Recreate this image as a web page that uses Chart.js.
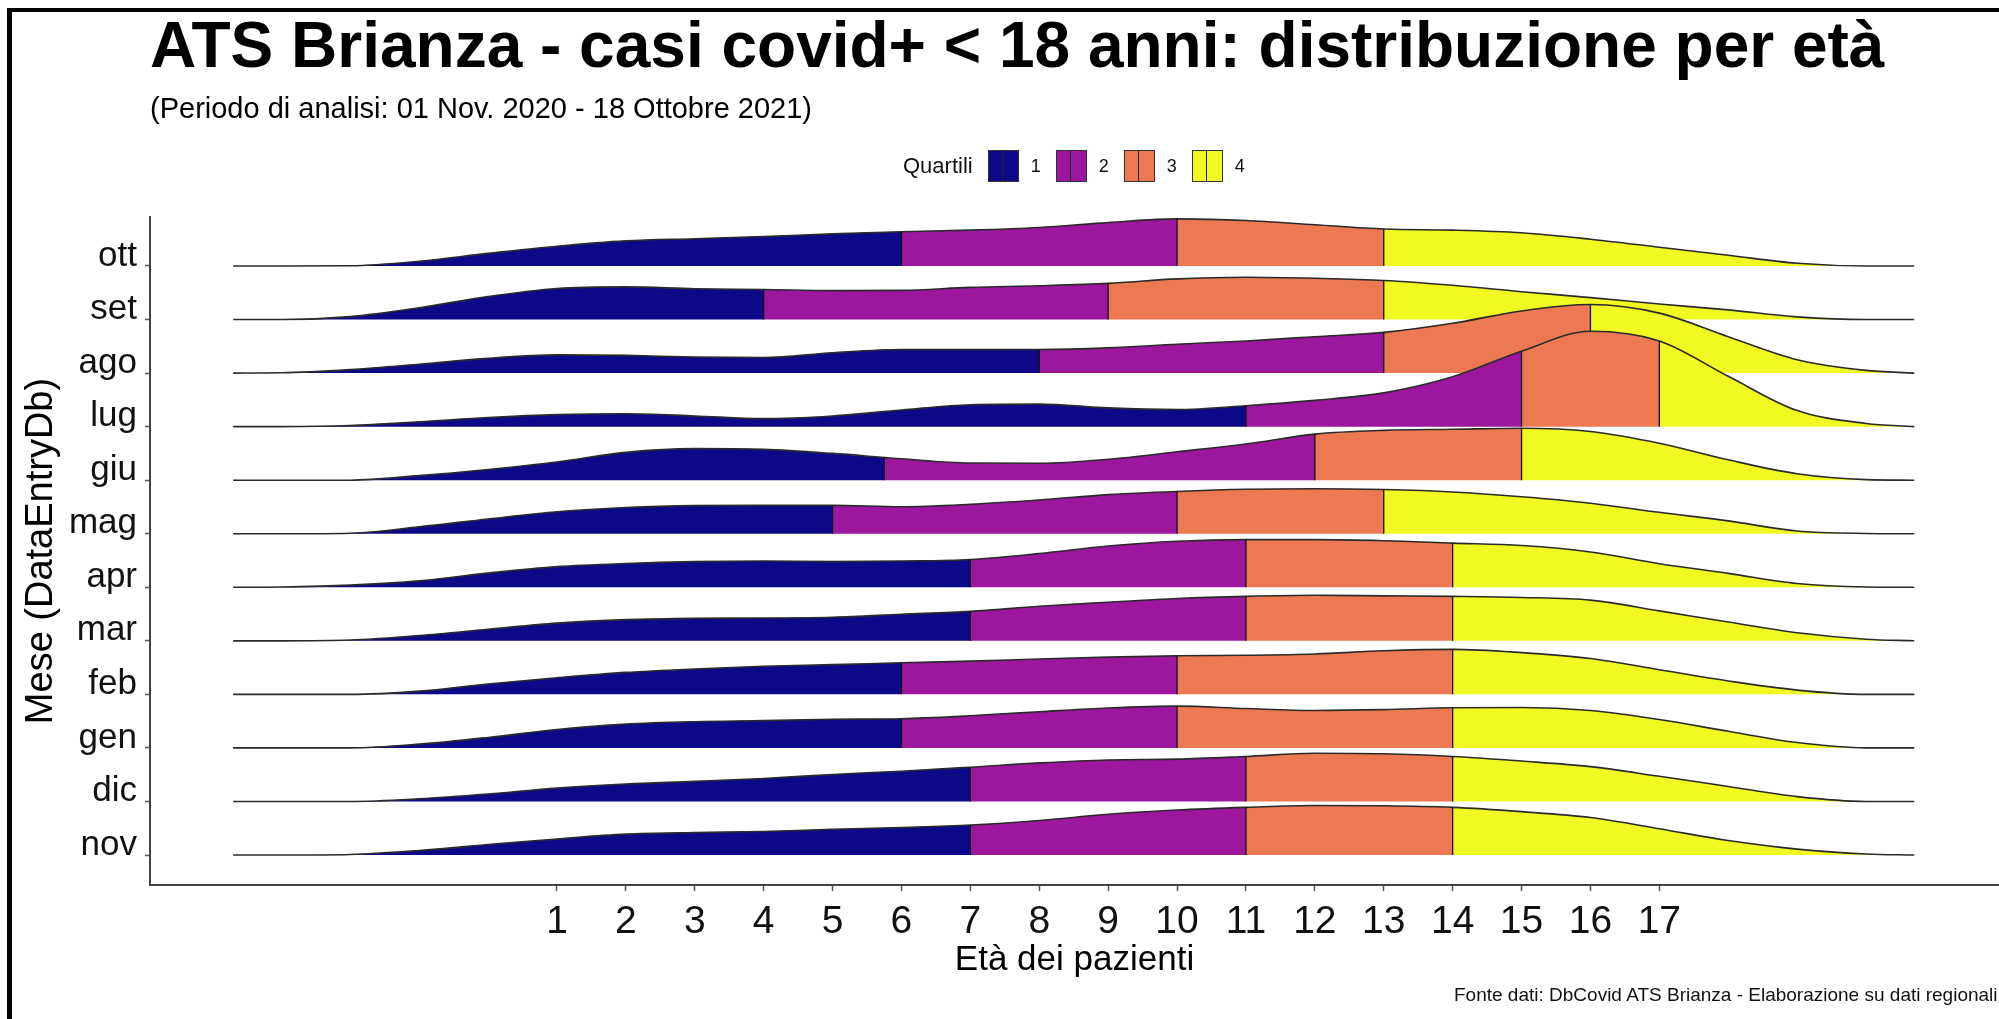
<!DOCTYPE html>
<html>
<head>
<meta charset="utf-8">
<title>ATS Brianza - casi covid+ &lt; 18 anni</title>
<script src="https://cdn.jsdelivr.net/npm/chart.js@4.4.0/dist/chart.umd.min.js"></script>
<style>
  html, body { margin: 0; padding: 0; background: #fff; }
  #wrap { position: relative; width: 1999px; height: 1019px; overflow: hidden;
          font-family: "Liberation Sans", Arial, sans-serif; color: #111; }
  #frame { position: absolute; left: 7px; top: 8px; width: 2100px; height: 1100px;
           border-left: 5px solid #000; border-top: 4px solid #000; pointer-events: none; }
  #legend { position: absolute; left: 903px; top: 150px; height: 32px;
            display: flex; align-items: center; }
  #legend .lt { font-size: 22px; margin-right: 15px; }
  #legend .key { position: relative; width: 31px; height: 32px; box-sizing: border-box;
                 border: 1.5px solid #333; }
  #legend .key::after { content: ""; position: absolute; left: 13px; top: 0; width: 1.5px;
                        height: 100%; background: #222; }
  #legend .kl { font-size: 18px; margin: 0 15px 0 12px; }
  #caption { position: absolute; left: 1454px; top: 984px; font-size: 19px; white-space: nowrap; }
</style>
</head>
<body>
<div id="wrap">
  <canvas id="chart" width="1999" height="1019"></canvas>
  <div id="legend"></div>
  <div id="caption">Fonte dati: DbCovid ATS Brianza - Elaborazione su dati regionali</div>
  <div id="frame"></div>
</div>
<script>
// età (x) su cui è letta la densità di ogni mese
const ages = [-3.7, -3, -2, -1, 0, 1, 2, 3, 4, 5, 6, 7, 8, 9, 10, 11, 12, 13, 14, 15, 16, 17, 18, 19, 20, 20.7];
const ageTicks = [1, 2, 3, 4, 5, 6, 7, 8, 9, 10, 11, 12, 13, 14, 15, 16, 17];

// mesi dal basso verso l'alto
const months = ['nov', 'dic', 'gen', 'feb', 'mar', 'apr', 'mag', 'giu', 'lug', 'ago', 'set', 'ott'];

// altezza delle creste (in righe)
const densNov = [0, 0, 0.01, 0.085, 0.195, 0.30, 0.39, 0.42, 0.44, 0.48, 0.515, 0.56, 0.645, 0.76, 0.84, 0.89, 0.925, 0.92, 0.89, 0.81, 0.70, 0.49, 0.27, 0.11, 0.02, 0];
const densDic = [0, 0, 0, 0.05, 0.14, 0.25, 0.325, 0.375, 0.43, 0.505, 0.565, 0.64, 0.72, 0.775, 0.79, 0.84, 0.90, 0.89, 0.84, 0.755, 0.65, 0.47, 0.28, 0.09, 0, 0];
const densGen = [0, 0, 0, 0.07, 0.195, 0.345, 0.445, 0.49, 0.51, 0.535, 0.545, 0.60, 0.675, 0.745, 0.78, 0.735, 0.70, 0.715, 0.75, 0.755, 0.70, 0.53, 0.31, 0.10, 0, 0];
const densFeb = [0, 0, 0, 0.06, 0.195, 0.31, 0.41, 0.475, 0.525, 0.555, 0.59, 0.62, 0.66, 0.695, 0.72, 0.73, 0.755, 0.815, 0.84, 0.78, 0.67, 0.46, 0.25, 0.08, 0, 0];
const densMar = [0, 0, 0.015, 0.10, 0.215, 0.33, 0.395, 0.42, 0.425, 0.44, 0.495, 0.55, 0.645, 0.72, 0.79, 0.83, 0.85, 0.84, 0.83, 0.81, 0.76, 0.56, 0.35, 0.15, 0.03, 0];
const densApr = [0, 0.005, 0.04, 0.12, 0.265, 0.385, 0.445, 0.48, 0.49, 0.48, 0.49, 0.52, 0.63, 0.77, 0.86, 0.89, 0.89, 0.87, 0.825, 0.78, 0.66, 0.44, 0.26, 0.07, 0.005, 0];
const densMag = [0, 0, 0.01, 0.13, 0.275, 0.41, 0.49, 0.525, 0.53, 0.53, 0.505, 0.55, 0.63, 0.73, 0.79, 0.83, 0.84, 0.825, 0.78, 0.69, 0.57, 0.40, 0.24, 0.05, 0.005, 0];
const densGiu = [0, 0, 0, 0.085, 0.20, 0.34, 0.52, 0.59, 0.575, 0.50, 0.40, 0.32, 0.315, 0.39, 0.53, 0.675, 0.86, 0.93, 0.95, 0.97, 0.91, 0.69, 0.38, 0.12, 0.01, 0];
const densLug = [0, 0, 0.02, 0.09, 0.17, 0.225, 0.24, 0.20, 0.15, 0.20, 0.31, 0.41, 0.42, 0.35, 0.32, 0.39, 0.49, 0.63, 0.93, 1.41, 1.78, 1.60, 0.94, 0.30, 0.06, 0];
const densAgo = [0, 0.005, 0.065, 0.165, 0.275, 0.34, 0.33, 0.30, 0.29, 0.38, 0.44, 0.44, 0.44, 0.47, 0.54, 0.60, 0.68, 0.76, 0.93, 1.16, 1.28, 1.12, 0.68, 0.25, 0.05, 0];
const densSet = [0, 0, 0.055, 0.22, 0.43, 0.58, 0.61, 0.575, 0.56, 0.54, 0.545, 0.60, 0.63, 0.675, 0.76, 0.79, 0.77, 0.73, 0.64, 0.52, 0.41, 0.29, 0.18, 0.05, 0, 0];
const densOtt = [0, 0, 0.005, 0.09, 0.235, 0.37, 0.47, 0.51, 0.55, 0.60, 0.64, 0.67, 0.72, 0.81, 0.88, 0.85, 0.77, 0.69, 0.67, 0.62, 0.50, 0.35, 0.20, 0.05, 0, 0];

// quartili (1°, 2°, 3°) per mese
const qNov = [7, 11, 14];
const qDic = [7, 11, 14];
const qGen = [6, 10, 14];
const qFeb = [6, 10, 14];
const qMar = [7, 11, 14];
const qApr = [7, 11, 14];
const qMag = [5, 10, 13];
const qGiu = [5.75, 12, 15];
const qLug = [11, 15, 17];
const qAgo = [8, 13, 16];
const qSet = [4, 9, 13];
const qOtt = [6, 10, 13];

const quartLabels = ['1', '2', '3', '4'];
const quartColors = ['#0D0887', '#9C179E', '#ED7953', '#F0F921'];

const dens = [densNov, densDic, densGen, densFeb, densMar, densApr, densMag, densGiu, densLug, densAgo, densSet, densOtt];
const quarts = [qNov, qDic, qGen, qFeb, qMar, qApr, qMag, qGiu, qLug, qAgo, qSet, qOtt];

// legenda
const legend = document.getElementById('legend');
legend.innerHTML = '<span class="lt">Quartili</span>' + quartLabels.map((l, i) =>
  `<span class="key" style="background:${quartColors[i]}"></span><span class="kl">${l}</span>`).join('');

function heightAt(d, v) {
  for (let i = 0; i < ages.length - 1; i++) {
    if (v >= ages[i] && v <= ages[i + 1]) {
      const t = (v - ages[i]) / (ages[i + 1] - ages[i]);
      return d[i] + t * (d[i + 1] - d[i]);
    }
  }
  return 0;
}

function quartileFill(q) {
  return (context) => {
    const chart = context.chart;
    const area = chart.chartArea;
    if (!area) return quartColors[0];
    const xs = chart.scales.x;
    const g = chart.ctx.createLinearGradient(area.left, 0, area.right, 0);
    let start = 0;
    q.forEach((v, i) => {
      const t = Math.min(1, Math.max(0, (xs.getPixelForValue(v) - area.left) / (area.right - area.left)));
      g.addColorStop(start, quartColors[i]);
      g.addColorStop(t, quartColors[i]);
      start = t;
    });
    g.addColorStop(start, quartColors[3]);
    g.addColorStop(1, quartColors[3]);
    return g;
  };
}

const datasets = [];
months.forEach((m, r) => {
  const base = r + 1;
  const d = dens[r];
  datasets.push({
    label: m,
    data: ages.map((a, i) => ({ x: a, y: base + d[i] })),
    fill: { value: base },
    backgroundColor: quartileFill(quarts[r]),
    borderColor: '#2b2b2b',
    borderWidth: 1.6,
    cubicInterpolationMode: 'monotone',
    pointRadius: 0,
    order: 2 * r + 1
  });
  const pts = [];
  quarts[r].forEach(v => {
    pts.push({ x: v, y: base }, { x: v, y: base + heightAt(d, v) }, { x: v, y: null });
  });
  datasets.push({
    label: m + ' quartili',
    data: pts,
    fill: false,
    borderColor: '#111',
    borderWidth: 1.3,
    tension: 0,
    spanGaps: false,
    pointRadius: 0,
    order: 2 * r
  });
});

Chart.defaults.font.family = '"Liberation Sans", Arial, sans-serif';
Chart.defaults.color = '#111';

new Chart(document.getElementById('chart'), {
  type: 'line',
  data: { datasets },
  options: {
    responsive: false,
    animation: false,
    events: [],
    layout: { padding: 0 },
    plugins: {
      legend: { display: false },
      tooltip: { enabled: false },
      title: {
        display: true,
        text: 'ATS Brianza - casi covid+ < 18 anni: distribuzione per età',
        align: 'start',
        fullSize: false,
        color: '#000',
        font: { size: 64, weight: 'bold' },
        padding: { top: 11, bottom: 0 }
      },
      subtitle: {
        display: true,
        text: '(Periodo di analisi: 01 Nov. 2020 - 18 Ottobre 2021)',
        align: 'start',
        fullSize: false,
        color: '#000',
        font: { size: 29 },
        padding: { top: 5, bottom: 89.4 }
      }
    },
    scales: {
      x: {
        type: 'linear',
        min: -4.907,
        max: 21.93,
        afterBuildTicks: s => { s.ticks = ageTicks.map(v => ({ value: v })); },
        afterFit: s => { s.height = 134; },
        ticks: { font: { size: 39 }, color: '#111', padding: 8, maxRotation: 0, autoSkip: false },
        grid: { drawOnChartArea: false, tickLength: 6, tickWidth: 1.5, color: '#555' },
        border: { color: '#444', width: 2 },
        title: {
          display: true, text: 'Età dei pazienti', color: '#000',
          font: { size: 35 }, padding: { top: 0, bottom: 38 }
        }
      },
      y: {
        type: 'linear',
        min: 0.44,
        max: 12.915,
        afterBuildTicks: s => { s.ticks = months.map((m, i) => ({ value: i + 1 })); },
        afterFit: s => { s.width = 150; },
        ticks: {
          callback: v => months[v - 1],
          font: { size: 35 }, color: '#111', padding: 8, labelOffset: -10, autoSkip: false
        },
        grid: { drawOnChartArea: false, tickLength: 5, tickWidth: 1.5, color: '#555' },
        border: { color: '#444', width: 2 },
        title: {
          display: true, text: 'Mese (DataEntryDb)', color: '#000',
          font: { size: 38 }, padding: { top: 19, bottom: 0 }
        }
      }
    }
  }
});
</script>
</body>
</html>
